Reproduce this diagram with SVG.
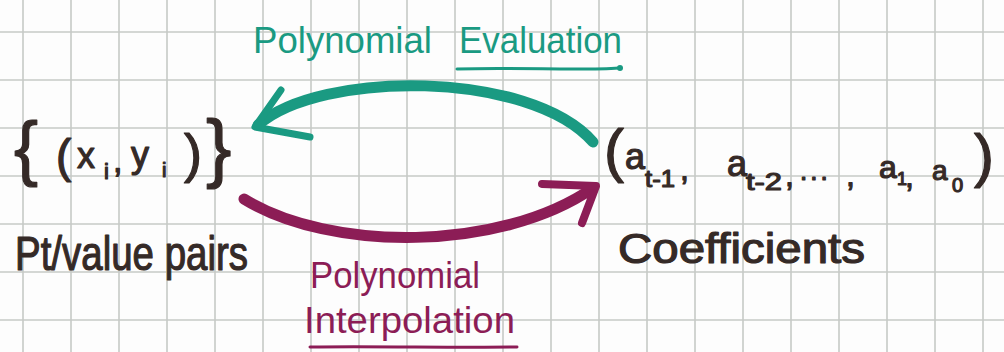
<svg xmlns="http://www.w3.org/2000/svg" width="1004" height="352" viewBox="0 0 1004 352">
<style>
.grid line{stroke:#c6cac6;stroke-width:1.6}
.ink{font-family:"Liberation Sans",Arial,sans-serif;fill:#352a27;stroke:#352a27;stroke-width:1.2;stroke-linejoin:round}
.green{font-family:"Liberation Sans",Arial,sans-serif;fill:#1a9a82}
.maroon{font-family:"Liberation Sans",Arial,sans-serif;fill:#8c1d56}
.garrow{fill:none;stroke:#1a9a82;stroke-linecap:round;stroke-linejoin:round}
.marrow{fill:none;stroke:#8c1d56;stroke-linecap:round;stroke-linejoin:round}
</style>
<rect width="1004" height="352" fill="#fdfdfd"/>
<g class="grid">
<line x1="23" y1="0" x2="23" y2="352"/><line x1="71" y1="0" x2="71" y2="352"/><line x1="119" y1="0" x2="119" y2="352"/><line x1="167" y1="0" x2="167" y2="352"/><line x1="215" y1="0" x2="215" y2="352"/><line x1="263" y1="0" x2="263" y2="352"/><line x1="311" y1="0" x2="311" y2="352"/><line x1="359" y1="0" x2="359" y2="352"/><line x1="407" y1="0" x2="407" y2="352"/><line x1="455" y1="0" x2="455" y2="352"/><line x1="503" y1="0" x2="503" y2="352"/><line x1="551" y1="0" x2="551" y2="352"/><line x1="599" y1="0" x2="599" y2="352"/><line x1="647" y1="0" x2="647" y2="352"/><line x1="695" y1="0" x2="695" y2="352"/><line x1="743" y1="0" x2="743" y2="352"/><line x1="791" y1="0" x2="791" y2="352"/><line x1="839" y1="0" x2="839" y2="352"/><line x1="887" y1="0" x2="887" y2="352"/><line x1="935" y1="0" x2="935" y2="352"/><line x1="983" y1="0" x2="983" y2="352"/>
<line x1="0" y1="32" x2="1004" y2="32"/><line x1="0" y1="80" x2="1004" y2="80"/><line x1="0" y1="128" x2="1004" y2="128"/><line x1="0" y1="176" x2="1004" y2="176"/><line x1="0" y1="224" x2="1004" y2="224"/><line x1="0" y1="272" x2="1004" y2="272"/><line x1="0" y1="320" x2="1004" y2="320"/>
</g>
<g id="node-points">
<text class="ink" x="14" y="172" font-size="72">{</text>
<text class="ink" x="56" y="172" font-size="46">(</text>
<text class="ink" x="77" y="168" font-size="36">x</text>
<text class="ink" x="104" y="179" font-size="22">i</text>
<text class="ink" x="113" y="172" font-size="34">,</text>
<text class="ink" x="131" y="167" font-size="36">y</text>
<text class="ink" x="162" y="177" font-size="20">i</text>
<text class="ink" x="184" y="172" font-size="54">)</text>
<text class="ink" x="206" y="173" font-size="76">}</text>
<text class="ink" x="15" y="270" font-size="48" textLength="233" lengthAdjust="spacingAndGlyphs">Pt/value pairs</text>
</g>
<g id="node-coefficients">
<text class="ink" x="604" y="171" font-size="60">(</text>
<text class="ink" x="625" y="169" font-size="36">a</text>
<text class="ink" x="645" y="187" font-size="24" textLength="30" lengthAdjust="spacingAndGlyphs">t-1</text>
<text class="ink" x="680" y="180" font-size="32">,</text>
<text class="ink" x="727" y="176" font-size="36">a</text>
<text class="ink" x="746" y="190" font-size="24" textLength="36" lengthAdjust="spacingAndGlyphs">t-2</text>
<text class="ink" x="785" y="186" font-size="32">,</text>
<text class="ink" x="800" y="180" font-size="26" letter-spacing="3">...</text>
<text class="ink" x="846" y="186" font-size="32">,</text>
<text class="ink" x="879" y="178" font-size="32">a</text>
<text class="ink" x="897" y="185" font-size="18">1</text>
<text class="ink" x="905" y="187" font-size="32">,</text>
<text class="ink" x="932" y="180" font-size="28">a</text>
<text class="ink" x="952" y="192" font-size="20">0</text>
<text class="ink" x="974" y="176" font-size="60">)</text>
<text class="ink" x="618" y="263" font-size="42" textLength="247" lengthAdjust="spacingAndGlyphs">Coefficients</text>
</g>
<g id="connectors">
<g id="edge-evaluation">
<path class="garrow" stroke-width="11" d="M593 142 C530 70 320 70 258 125"/>
<path class="garrow" stroke-width="7" d="M281 90 L255 127 L310 137"/>
<text class="green" x="253" y="53" font-size="37" textLength="179" lengthAdjust="spacingAndGlyphs">Polynomial</text>
<text class="green" x="459" y="53" font-size="37" textLength="163" lengthAdjust="spacingAndGlyphs">Evaluation</text>
<path class="garrow" stroke-width="3" d="M457 69 C520 67 580 71 619 68"/>
<circle cx="620" cy="68" r="3" fill="#1a9a82"/>
</g>
<g id="edge-interpolation">
<path class="marrow" stroke-width="11" d="M244 199 C330 252 500 252 593 188"/>
<path class="marrow" stroke-width="8" d="M542 184 L596 186 L582 223"/>
<text class="maroon" x="310" y="288" font-size="37" textLength="170" lengthAdjust="spacingAndGlyphs">Polynomial</text>
<text class="maroon" x="304" y="333" font-size="37" textLength="211" lengthAdjust="spacingAndGlyphs">Interpolation</text>
<path class="marrow" stroke-width="3" d="M310 347 C380 346 450 348 517 347"/>
</g>
</g>
</svg>
